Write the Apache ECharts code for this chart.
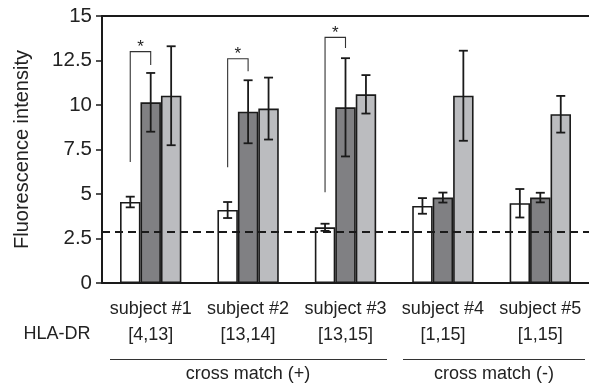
<!DOCTYPE html>
<html>
<head>
<meta charset="utf-8">
<script src="https://cdn.jsdelivr.net/npm/echarts@6/dist/echarts.min.js"></script>
<style>
html,body{margin:0;padding:0;background:#fff;}
#chart{width:589px;height:385px;}
</style>
</head>
<body>
<div id="chart"></div>
<script>
const categories = ['subject #1', 'subject #2', 'subject #3', 'subject #4', 'subject #5'];
const hlaLabels = ['[4,13]', '[13,14]', '[13,15]', '[1,15]', '[1,15]'];
const yTicks = [0, 2.5, 5, 7.5, 10, 12.5, 15];

const whiteMean = [4.55, 4.1, 3.13, 4.33, 4.48];
const whiteErr  = [0.3, 0.45, 0.2, 0.44, 0.8];
const darkMean  = [10.15, 9.62, 9.87, 4.8, 4.8];
const darkErr   = [1.65, 1.77, 2.76, 0.28, 0.27];
const lightMean = [10.52, 9.8, 10.6, 10.52, 9.48];
const lightErr  = [2.78, 1.74, 1.08, 2.53, 1.03];

const cutoff = 2.9;

// significance brackets: category index, left-leg bottom, top, right-leg bottom
const bracketCat   = [0, 1, 2];
const bracketLeft  = [6.8, 6.5, 5.1];
const bracketTop   = [13.0, 12.6, 13.8];
const bracketRight = [12.25, 11.9, 13.2];

const groupLabels = ['cross match (+)', 'cross match (-)'];
const rowLabel = 'HLA-DR';

const BAR_FRAC = 0.21;
const FONT = '"Liberation Sans", Arial, sans-serif';
const TXT = '#222';

function errData(mean, err) {
  return mean.map((m, i) => [i, m - err[i], m + err[i]]);
}

function errSeries(mean, err, slot) {
  return {
    type: 'custom',
    z: 5,
    data: errData(mean, err),
    encode: { x: 0, y: [1, 2] },
    renderItem: function (params, api) {
      const c = api.value(0);
      const lo = api.coord([c, api.value(1)]);
      const hi = api.coord([c, api.value(2)]);
      const bw = api.size([1, 0])[0] * BAR_FRAC;
      const x = lo[0] + slot * bw;
      const cap = 4.5;
      const st = { stroke: '#1a1a1a', lineWidth: 1.8 };
      return {
        type: 'group',
        children: [
          { type: 'line', shape: { x1: x, y1: lo[1], x2: x, y2: hi[1] }, style: st },
          { type: 'line', shape: { x1: x - cap, y1: lo[1], x2: x + cap, y2: lo[1] }, style: st },
          { type: 'line', shape: { x1: x - cap, y1: hi[1], x2: x + cap, y2: hi[1] }, style: st }
        ]
      };
    }
  };
}

function barSeries(name, data, color) {
  return {
    name: name,
    type: 'bar',
    data: data,
    barWidth: (BAR_FRAC * 100) + '%',
    barGap: '0%',
    itemStyle: { color: color, borderColor: '#1a1a1a', borderWidth: 1.6 },
    silent: true
  };
}

const bracketData = bracketCat.map((c, i) => [c, bracketLeft[i], bracketTop[i], bracketRight[i]]);

const chart = echarts.init(document.getElementById('chart'), null, { renderer: 'canvas' });

const option = {
  animation: false,
  backgroundColor: '#fff',
  textStyle: { fontFamily: FONT },
  grid: { left: 102, right: -2, top: 16, bottom: 102, containLabel: false },
  xAxis: [
    {
      type: 'category',
      data: categories,
      position: 'bottom',
      axisLine: { lineStyle: { color: '#1a1a1a', width: 2 } },
      axisTick: { alignWithLabel: true, length: 6, lineStyle: { color: '#1a1a1a', width: 1.5 } },
      axisLabel: {
        interval: 0,
        margin: 13,
        fontSize: 18,
        lineHeight: 26,
        color: TXT,
        fontFamily: FONT,
        formatter: function (v, i) { return v + '\n' + hlaLabels[i]; }
      }
    },
    {
      type: 'category',
      data: categories,
      position: 'top',
      axisLine: { lineStyle: { color: '#1a1a1a', width: 2 } },
      axisTick: { show: false },
      axisLabel: { show: false }
    }
  ],
  yAxis: {
    type: 'value',
    min: yTicks[0],
    max: yTicks[yTicks.length - 1],
    interval: yTicks[1] - yTicks[0],
    name: 'Fluorescence intensity',
    nameLocation: 'middle',
    nameGap: 70,
    nameTextStyle: { fontSize: 20, color: TXT, fontFamily: FONT },
    axisLine: { show: true, lineStyle: { color: '#1a1a1a', width: 2 } },
    axisTick: { show: true, length: 6, lineStyle: { color: '#1a1a1a', width: 1.5 } },
    axisLabel: { fontSize: 20.5, color: TXT, margin: 10, fontFamily: FONT },
    splitLine: { show: false }
  },
  series: [
    Object.assign(barSeries('white', whiteMean, '#ffffff'), {
      markLine: {
        silent: true,
        symbol: 'none',
        label: { show: false },
        lineStyle: { color: '#1a1a1a', type: [8, 5], width: 2 },
        data: [{ yAxis: cutoff }]
      }
    }),
    barSeries('dark', darkMean, '#808083'),
    barSeries('light', lightMean, '#bbbcbf'),
    errSeries(whiteMean, whiteErr, -1),
    errSeries(darkMean, darkErr, 0),
    errSeries(lightMean, lightErr, 1),
    {
      type: 'custom',
      z: 6,
      data: bracketData,
      encode: { x: 0, y: [1, 2, 3] },
      renderItem: function (params, api) {
        const c = api.value(0);
        const bw = api.size([1, 0])[0] * BAR_FRAC;
        const pL = api.coord([c, api.value(1)]);
        const pT = api.coord([c, api.value(2)]);
        const pR = api.coord([c, api.value(3)]);
        const xl = pL[0] - bw;
        const xr = pL[0];
        return {
          type: 'group',
          children: [
            {
              type: 'polyline',
              shape: { points: [[xl, pL[1]], [xl, pT[1]], [xr, pT[1]], [xr, pR[1]]] },
              style: { stroke: '#333', lineWidth: 1.1, fill: null }
            },
            {
              type: 'text',
              style: {
                text: '*', x: (xl + xr) / 2, y: pT[1] + 4,
                fontSize: 17, fontFamily: FONT, fill: TXT,
                align: 'center', verticalAlign: 'bottom'
              }
            }
          ]
        };
      }
    }
  ],
  graphic: [
    { type: 'text', x: 57, y: 334, style: { text: rowLabel, fontSize: 18, fontFamily: FONT, fill: TXT, align: 'center', verticalAlign: 'middle' } },
    { type: 'line', shape: { x1: 110, y1: 359.5, x2: 387, y2: 359.5 }, style: { stroke: '#333', lineWidth: 1 } },
    { type: 'line', shape: { x1: 403, y1: 359.5, x2: 585, y2: 359.5 }, style: { stroke: '#333', lineWidth: 1 } },
    { type: 'text', x: 248, y: 374, style: { text: groupLabels[0], fontSize: 18, fontFamily: FONT, fill: TXT, align: 'center', verticalAlign: 'middle' } },
    { type: 'text', x: 494, y: 374, style: { text: groupLabels[1], fontSize: 18, fontFamily: FONT, fill: TXT, align: 'center', verticalAlign: 'middle' } }
  ]
};

chart.setOption(option);
</script>
</body>
</html>
